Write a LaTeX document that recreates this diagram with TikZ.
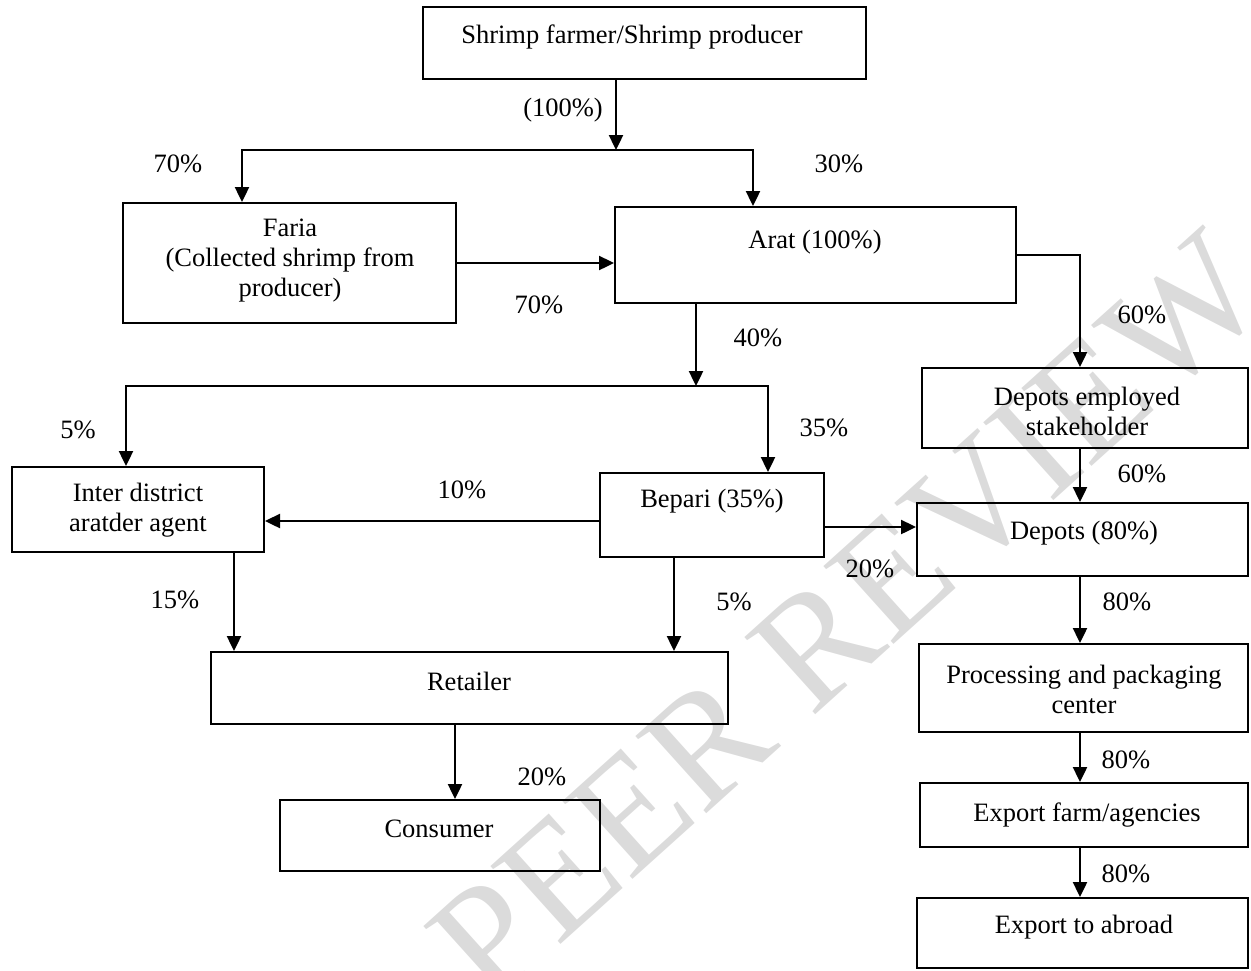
\documentclass[tikz,border=0pt]{standalone}
\usepackage{fontspec}
\setmainfont{Liberation Serif}
\usetikzlibrary{arrows.meta, positioning, calc}
\definecolor{wmgray}{RGB}{219,219,219}

\begin{document}
\begin{tikzpicture}[x=1pt, y=-1pt,
    blk/.style={draw, line width=2pt, inner sep=0pt},
    txt/.style={inner sep=0pt, align=center, font=\fontsize{26.5}{30}\selectfont},
    pct/.style={inner sep=0pt, font=\fontsize{26.5}{30}\selectfont},
    arr/.style={line width=2.4pt, -{Triangle[length=15pt, width=14pt]}}
]
    \useasboundingbox (0,0) rectangle (1251,970);

    % Watermark behind everything
    \node[inner sep=0pt, rotate=42, text=wmgray, font=\fontsize{160}{160}\selectfont]
        (wmark) at (848,617) {PEER REVIEW};

    % Boxes
    \node[blk, minimum width=443, minimum height=72] (farmer) at (644.5,43) {};
    \node[blk, minimum width=333, minimum height=120] (faria) at (289.5,263) {};
    \node[blk, minimum width=401, minimum height=96] (arat) at (815.5,255) {};
    \node[blk, minimum width=326, minimum height=80] (depemp) at (1085,408) {};
    \node[blk, minimum width=252, minimum height=85] (inter) at (138,509.5) {};
    \node[blk, minimum width=224, minimum height=84] (bepari) at (712,515) {};
    \node[blk, minimum width=331, minimum height=73] (depots) at (1082.5,539.5) {};
    \node[blk, minimum width=517, minimum height=72] (retailer) at (469.5,688) {};
    \node[blk, minimum width=329, minimum height=88] (process) at (1083.5,688) {};
    \node[blk, minimum width=320, minimum height=71] (consumer) at (440,835.5) {};
    \node[blk, minimum width=328, minimum height=64] (expfarm) at (1084,815) {};
    \node[blk, minimum width=331, minimum height=70] (abroad) at (1082.5,933) {};

    % Box texts
    \node[txt] (farmerT) at (632,37) {Shrimp farmer/Shrimp producer};
    \node[txt] (fariaT) at (290,261) {Faria\\(Collected shrimp from\\producer)};
    \node[txt] (aratT) at (815,242) {Arat (100\%)};
    \node[txt] (depempT) at (1087,411) {Depots employed\\stakeholder};
    \node[txt] (interT) at (138,510) {Inter district\\aratder agent};
    \node[txt] (bepariT) at (712,501) {Bepari (35\%)};
    \node[txt] (depotsT) at (1084,533) {Depots (80\%)};
    \node[txt] (retailerT) at (469,681) {Retailer};
    \node[txt] (processT) at (1084,689) {Processing and packaging\\center};
    \node[txt] (consumerT) at (439,829) {Consumer};
    \node[txt] (expfarmT) at (1087,815) {Export farm/agencies};
    \node[txt] (abroadT) at (1084,927) {Export to abroad};

    % Junctions
    \coordinate (j1) at (616,150);
    \coordinate (j1l) at (242,150);
    \coordinate (j1r) at (753,150);
    \coordinate (j2) at (696,386);
    \coordinate (j2l) at (126,386);
    \coordinate (j2r) at (768,386);
    \coordinate (colR) at (1080,255);
    \coordinate (r10) at (600,521);
    \coordinate (r20) at (824,527);
    \coordinate (c15) at (234,600);
    \coordinate (c5) at (674,600);
    \coordinate (c20) at (455,760);

    % Top split
    \draw[arr] (farmer.south -| j1) -- (j1);
    \draw[arr] (j1) -| (j1l |- faria.north);
    \draw[arr] (j1) -| (j1r |- arat.north);
    \draw[arr] (faria.east) -- (faria.east -| arat.west);

    % Arat outputs
    \draw[arr] (arat.east) -| (colR |- depemp.north);
    \draw[arr] (arat.south -| j2) -- (j2);
    \draw[arr] (j2) -| (j2l |- inter.north);
    \draw[arr] (j2) -| (j2r |- bepari.north);

    % Bepari and agents
    \draw[arr] (bepari.west |- r10) -- (inter.east |- r10);
    \draw[arr] (bepari.east |- r20) -- (depots.west |- r20);
    \draw[arr] (inter.south -| c15) -- (retailer.north -| c15);
    \draw[arr] (bepari.south -| c5) -- (retailer.north -| c5);
    \draw[arr] (retailer.south -| c20) -- (consumer.north -| c20);

    % Export chain
    \draw[arr] (depemp.south -| colR) -- (depots.north -| colR);
    \draw[arr] (depots.south -| colR) -- (process.north -| colR);
    \draw[arr] (process.south -| colR) -- (expfarm.north -| colR);
    \draw[arr] (expfarm.south -| colR) -- (abroad.north -| colR);

    % Shares
    \node[pct] (p100) at (563,110) {(100\%)};
    \node[pct] (p70a) at (178,164) {70\%};
    \node[pct] (p30) at (839,164) {30\%};
    \node[pct] (p70b) at (539,305) {70\%};
    \node[pct] (p60a) at (1142,315) {60\%};
    \node[pct] (p40) at (758,338) {40\%};
    \node[pct] (p5a) at (78,430) {5\%};
    \node[pct] (p35) at (824,428) {35\%};
    \node[pct] (p10) at (462,490) {10\%};
    \node[pct] (p60b) at (1142,474) {60\%};
    \node[pct] (p20a) at (870,569) {20\%};
    \node[pct] (p15) at (175,600) {15\%};
    \node[pct] (p5b) at (734,602) {5\%};
    \node[pct] (p80a) at (1127,602) {80\%};
    \node[pct] (p20b) at (542,777) {20\%};
    \node[pct] (p80b) at (1126,760) {80\%};
    \node[pct] (p80c) at (1126,874) {80\%};
\end{tikzpicture}
\end{document}
